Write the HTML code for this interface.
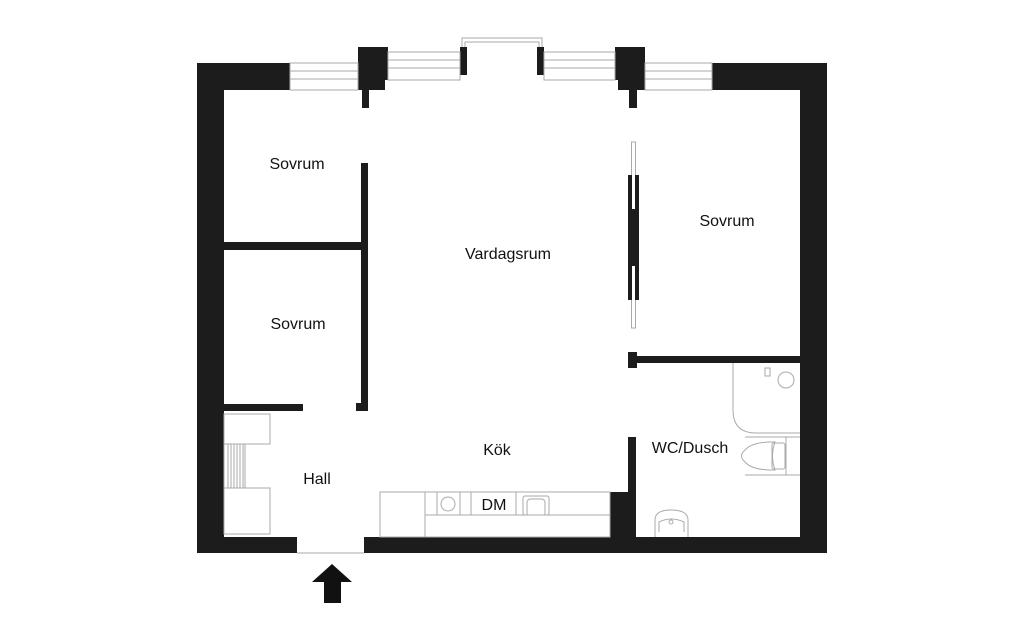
<!DOCTYPE html>
<html><head><meta charset="utf-8"><style>
html,body{margin:0;padding:0;background:#fff;width:1024px;height:640px;overflow:hidden}
svg{display:block}
text{font-family:"Liberation Sans",sans-serif;font-size:16px;fill:#111;text-anchor:middle}
</style></head><body>
<svg width="1024" height="640" viewBox="0 0 1024 640">
<rect x="631.5" y="142" width="4" height="186" fill="#fff" stroke="#aaa" stroke-width="1"/>
<g fill="#1c1c1c">
<rect x="197" y="63" width="93" height="27"/>
<rect x="197" y="63" width="27" height="490"/>
<rect x="712" y="63" width="115" height="27"/>
<rect x="800" y="63" width="27" height="490"/>
<rect x="197" y="537" width="100" height="16"/>
<rect x="364" y="537" width="463" height="16"/>
<rect x="358" y="47" width="30" height="33"/>
<rect x="358" y="80" width="27" height="10"/>
<rect x="362" y="90" width="7" height="18"/>
<rect x="460" y="47" width="7" height="28"/>
<rect x="537" y="47" width="7" height="28"/>
<rect x="615" y="47" width="30" height="33"/>
<rect x="618" y="80" width="27" height="10"/>
<rect x="629" y="90" width="8" height="18"/>
<rect x="361" y="163" width="7" height="248"/>
<rect x="356" y="403" width="12" height="8"/>
<rect x="224" y="242" width="137" height="8"/>
<rect x="224" y="404" width="79" height="7"/>
<rect x="628" y="175" width="11" height="125"/>
<rect x="628" y="356" width="172" height="7"/>
<rect x="628" y="352" width="9" height="16"/>
<rect x="628" y="437" width="8" height="100"/>
<rect x="610" y="492" width="26" height="45"/>
</g>
<g fill="#fff">
<rect x="632" y="175" width="3" height="34"/>
<rect x="632" y="266" width="3" height="34"/>
</g>
<g fill="none" stroke="#aaa" stroke-width="1">
<rect x="290" y="63" width="68" height="27"/>
<line x1="290" y1="71" x2="358" y2="71"/><line x1="290" y1="79" x2="358" y2="79"/>
<rect x="645" y="63" width="67" height="27"/>
<line x1="645" y1="71" x2="712" y2="71"/><line x1="645" y1="79" x2="712" y2="79"/>
<rect x="388" y="52" width="72" height="28"/>
<line x1="388" y1="60" x2="460" y2="60"/><line x1="388" y1="68" x2="460" y2="68"/>
<rect x="544" y="52" width="71" height="28"/>
<line x1="544" y1="60" x2="615" y2="60"/><line x1="544" y1="68" x2="615" y2="68"/>
<path d="M462 47 V38 H542 V47 M465 47 V42 H539 V47"/>
<line x1="297" y1="553" x2="364" y2="553"/>
<rect x="224" y="414" width="46" height="30"/>
<rect x="224" y="488" width="46" height="46"/>
<rect x="224" y="444" width="21" height="44"/>
<path d="M228 444V488M231 444V488M234 444V488M237 444V488M240 444V488M243 444V488"/>
<rect x="380" y="492" width="230" height="45"/>
<line x1="425" y1="492" x2="425" y2="537"/>
<line x1="425" y1="515" x2="610" y2="515"/>
<line x1="437" y1="492" x2="437" y2="515"/>
<line x1="460" y1="492" x2="460" y2="515"/>
<line x1="471" y1="492" x2="471" y2="515"/>
<line x1="516" y1="492" x2="516" y2="515"/>
<circle cx="448" cy="504" r="7"/>
<rect x="523" y="496" width="26" height="19" rx="2"/>
<path d="M527 515V503Q527 499 531 499H541Q545 499 545 503V515"/>
<path d="M733 363V410Q733 433 756 433H800"/>
<circle cx="786" cy="380" r="8"/>
<rect x="765" y="368" width="5" height="8"/>
<path d="M745 437H800M745 475H800M786 437V475"/>
<path d="M772 442H775Q770 456 775 470H772Q752 470 745 462Q738 456 745 450Q752 442 772 442Z"/>
<rect x="772" y="443" width="13" height="26" rx="2"/>
<path d="M655 537V520Q655 510 671 510Q688 510 688 520V537M659 532V522Q671 516 684 522V532"/>
<circle cx="671" cy="522" r="2"/>
</g>
<path d="M332 564L352 582H341V603H324V582H312Z" fill="#111"/>
<text x="297" y="169">Sovrum</text>
<text x="298" y="329">Sovrum</text>
<text x="508" y="259">Vardagsrum</text>
<text x="727" y="226">Sovrum</text>
<text x="497" y="455">Kök</text>
<text x="317" y="484">Hall</text>
<text x="494" y="510">DM</text>
<text x="690" y="453">WC/Dusch</text>
</svg>
</body></html>
